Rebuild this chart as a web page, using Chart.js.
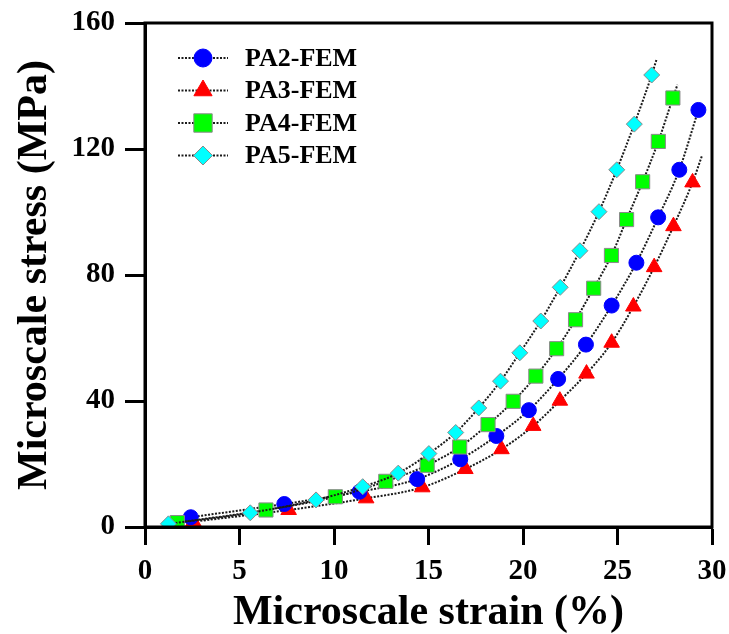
<!DOCTYPE html>
<html>
<head>
<meta charset="utf-8">
<script src="https://cdn.jsdelivr.net/npm/chart.js@4.4.1/dist/chart.umd.min.js"></script>
<style>
  html, body { margin: 0; padding: 0; background: #fff; }
  #wrap { width: 729px; height: 634px; position: relative; }
</style>
</head>
<body>
<div id="wrap"><canvas id="myChart" width="729" height="634"></canvas></div>
<script>
// Valeurs (déformation %, contrainte MPa)
var pa2Strain = [2.42, 7.37, 11.35, 14.4, 16.68, 18.59, 20.31, 21.86, 23.33, 24.69, 26.0, 27.15, 28.27, 29.28];
var pa2Stress = [3.1, 7.3, 11.2, 15.2, 21.5, 28.9, 37.1, 47.0, 57.9, 70.3, 83.9, 98.3, 113.4, 132.4];
var pa2LineEnd = null; // la courbe s'arrête sur le dernier point

var pa3Strain = [2.56, 7.6, 11.7, 14.67, 16.95, 18.86, 20.54, 21.95, 23.36, 24.69, 25.84, 26.94, 27.96, 28.97];
var pa3Stress = [1.7, 5.4, 9.1, 12.6, 18.4, 24.7, 32.1, 40.1, 48.7, 58.5, 70.0, 82.5, 95.5, 109.4];
var pa3LineEnd = [29.46, 117.7];

var pa4Strain = [1.71, 6.4, 10.07, 12.74, 14.93, 16.65, 18.15, 19.48, 20.68, 21.78, 22.78, 23.74, 24.68, 25.48, 26.33, 27.16, 27.93];
var pa4Stress = [1.4, 5.4, 9.6, 14.5, 19.6, 25.4, 32.5, 39.9, 47.9, 56.6, 65.8, 75.8, 86.2, 97.6, 109.6, 122.4, 136.2];
var pa4LineEnd = [28.17, 140.4];

var pa5Strain = [1.24, 5.57, 9.05, 11.52, 13.4, 15.02, 16.44, 17.66, 18.81, 19.83, 20.94, 21.97, 23.01, 24.02, 24.96, 25.89, 26.81];
var pa5Stress = [1.0, 4.5, 8.6, 12.8, 17.1, 23.3, 30.0, 37.8, 46.3, 55.3, 65.4, 76.1, 87.7, 100.1, 113.4, 127.9, 143.5];
var pa5LineEnd = [27.07, 148.5];

var seriesNames = ['PA2-FEM', 'PA3-FEM', 'PA4-FEM', 'PA5-FEM'];
var xTicks = [0, 5, 10, 15, 20, 25, 30];
var yTicks = [0, 40, 80, 120, 160];

var serifFont = "'Liberation Serif', 'Times New Roman', serif";

// construire les points {x, y} + prolongement éventuel de la courbe
function buildPoints(xs, ys, end) {
    var pts = xs.map(function(x, i) { return { x: x, y: ys[i] }; });
    if (end) pts.push({ x: end[0], y: end[1] });
    return pts;
}

function makeDataset(label, xs, ys, end, style, color, radius, order) {
    var radii = xs.map(function() { return radius; });
    if (end) radii.push(0);
    return {
        label: label,
        data: buildPoints(xs, ys, end),
        showLine: true,
        borderColor: '#1a1a1a',
        borderWidth: 2,
        borderDash: [2, 1.5],
        cubicInterpolationMode: 'monotone',
        pointStyle: style,
        pointRadius: radii,
        pointHoverRadius: radii,
        pointBackgroundColor: color,
        pointBorderColor: (color === '#0000ff' || color === '#ff0000') ? color : '#8a8a8a',
        pointBorderWidth: 1,
        order: order
    };
}

var markerStyles = [
    { style: 'circle', color: '#0000ff', lr: 9 },
    { style: 'triangle', color: '#ff0000', lr: 10.5 },
    { style: 'rect', color: '#00ff00', lr: 13 },
    { style: 'rectRot', color: '#00ffff', lr: 9.5 }
];

// Légende dessinée dans la zone du graphique
var insideLegend = {
    id: 'insideLegend',
    afterDraw: function(chart) {
        var ctx = chart.ctx;
        var left = chart.chartArea.left;
        var top = chart.chartArea.top;
        ctx.save();
        seriesNames.forEach(function(name, i) {
            var m = markerStyles[i];
            var y = top + 35 + i * 32.5;
            ctx.beginPath();
            ctx.setLineDash([2, 1.5]);
            ctx.strokeStyle = '#1a1a1a';
            ctx.lineWidth = 2;
            ctx.moveTo(left + 33, y);
            ctx.lineTo(left + 83, y);
            ctx.stroke();
            ctx.setLineDash([]);
            ctx.fillStyle = m.color;
            ctx.strokeStyle = (m.color === '#0000ff' || m.color === '#ff0000') ? m.color : '#8a8a8a';
            ctx.lineWidth = 1;
            Chart.helpers.drawPoint(ctx, { pointStyle: m.style, radius: m.lr, borderWidth: 1 }, left + 58, y);
            ctx.fillStyle = '#000';
            ctx.font = 'bold 26px ' + serifFont;
            ctx.textBaseline = 'middle';
            ctx.fillText(name, left + 100, y + 1);
        });
        ctx.restore();
    }
};

// Cadre complet autour de la zone du graphique
var frameBox = {
    id: 'frameBox',
    afterDraw: function(chart) {
        var a = chart.chartArea;
        var ctx = chart.ctx;
        ctx.save();
        ctx.strokeStyle = '#000';
        ctx.lineWidth = 3;
        ctx.strokeRect(a.left, a.top, a.right - a.left, a.bottom - a.top);
        ctx.restore();
    }
};

var datasets = [
    makeDataset(seriesNames[0], pa2Strain, pa2Stress, pa2LineEnd, 'circle', '#0000ff', 7.5, 2),
    makeDataset(seriesNames[1], pa3Strain, pa3Stress, pa3LineEnd, 'triangle', '#ff0000', 9, 3),
    makeDataset(seriesNames[2], pa4Strain, pa4Stress, pa4LineEnd, 'rect', '#00ff00', 10, 1),
    makeDataset(seriesNames[3], pa5Strain, pa5Stress, pa5LineEnd, 'rectRot', '#00ffff', 8, 0)
];

var ctx = document.getElementById('myChart').getContext('2d');
var myChart = new Chart(ctx, {
    type: 'scatter',
    data: { datasets: datasets },
    options: {
        responsive: false,
        animation: false,
        layout: { padding: { top: 23, right: 17, left: 0, bottom: 0 } },
        plugins: {
            legend: { display: false },
            tooltip: { enabled: false }
        },
        scales: {
            x: {
                type: 'linear',
                min: 0,
                max: 30,
                afterBuildTicks: function(axis) {
                    axis.ticks = xTicks.map(function(v) { return { value: v }; });
                },
                afterFit: function(scale) {
                    scale.height = 107;
                    scale.paddingRight = 0;
                    scale.paddingLeft = 0;
                },
                ticks: {
                    color: '#000',
                    padding: 9,
                    font: { family: serifFont, size: 29, weight: 'bold' }
                },
                grid: { drawOnChartArea: false, drawTicks: true, tickLength: 18, tickWidth: 3, tickColor: '#000' },
                border: { display: true, width: 3, color: '#000' },
                title: {
                    display: true,
                    text: 'Microscale strain (%)',
                    color: '#000',
                    padding: { top: 0, bottom: 0 },
                    font: { family: serifFont, size: 42, weight: 'bold', lineHeight: 1 }
                }
            },
            y: {
                type: 'linear',
                min: 0,
                max: 160,
                afterBuildTicks: function(axis) {
                    axis.ticks = yTicks.map(function(v) { return { value: v }; });
                },
                afterFit: function(scale) {
                    scale.width = 145;
                    scale.paddingTop = 0;
                    scale.paddingBottom = 0;
                },
                ticks: {
                    color: '#000',
                    padding: 10,
                    font: { family: serifFont, size: 29, weight: 'bold' }
                },
                grid: { drawOnChartArea: false, drawTicks: true, tickLength: 20, tickWidth: 3, tickColor: '#000' },
                border: { display: true, width: 3, color: '#000' },
                title: {
                    display: true,
                    text: 'Microscale stress (MPa)',
                    color: '#000',
                    padding: { top: 10, bottom: 0 },
                    font: { family: serifFont, size: 42, weight: 'bold' }
                }
            }
        }
    },
    plugins: [insideLegend, frameBox]
});
</script>
</body>
</html>
